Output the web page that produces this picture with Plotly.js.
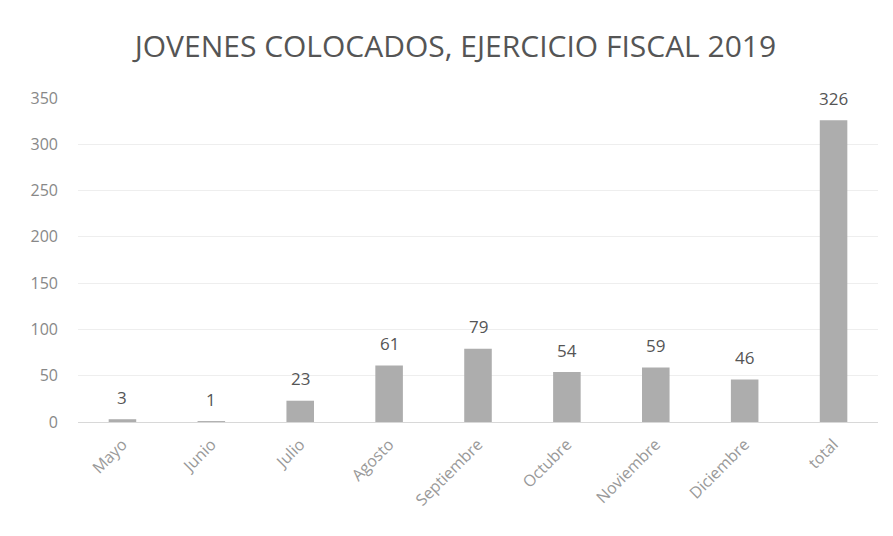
<!DOCTYPE html>
<html><head><meta charset="utf-8">
<script src="https://cdn.plot.ly/plotly-3.0.1.min.js"></script>
<style>html,body{margin:0;padding:0;background:#fff}</style>
</head><body>
<div id="chart" style="width:893px;height:536px"></div>
<script>
const categories = ["Mayo","Junio","Julio","Agosto","Septiembre","Octubre","Noviembre","Diciembre","total"];
const values = [3,1,23,61,79,54,59,46,326];
const yTicks = [0,50,100,150,200,250,300,350];

const labels = categories.map((c, i) => ({
  x: c, y: values[i], text: String(values[i]), showarrow: false,
  xref: "x", yref: "y", yanchor: "middle", yshift: 22,
  font: {family: "Open Sans", size: 17, color: "#555"}
}));

Plotly.newPlot("chart", [{
  type: "bar",
  x: categories,
  y: values,
  marker: {color: "#adadad"},
  width: 0.31,
  hoverinfo: "none"
}], {
  width: 893, height: 536,
  margin: {l: 78, r: 15, t: 98, b: 114},
  paper_bgcolor: "#fff", plot_bgcolor: "#fff",
  title: {text: "JOVENES COLOCADOS, EJERCICIO FISCAL 2019", x: 0.51, xanchor: "center", y: 0.914, yanchor: "middle",
          font: {family: "Open Sans", size: 30, color: "#555"}},
  xaxis: {tickangle: -45, tickfont: {family: "Open Sans", size: 16, color: "#999"}, showline: false, ticks: "",
          ticklabelstandoff: 9, fixedrange: true},
  yaxis: {range: [0, 350], tickvals: yTicks, ticktext: yTicks.map(String), gridcolor: "#eeeeee", zeroline: true, zerolinecolor: "#d8d8d8",
          tickfont: {family: "Open Sans", size: 16, color: "#888"}, ticks: "", showline: false, ticklabelstandoff: 19},
  annotations: labels,
  showlegend: false
}, {staticPlot: true});
</script>
</body></html>
